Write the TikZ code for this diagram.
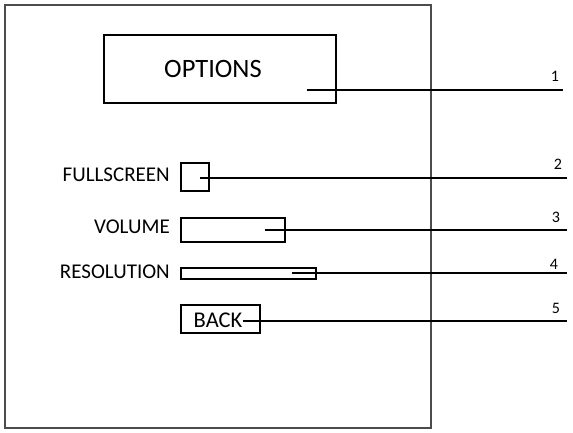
\documentclass[tikz,border=0pt]{standalone}
\usepackage{fontspec}
\setmainfont{Carlito}
\begin{document}
\begin{tikzpicture}[x=1pt,y=-1pt,
  box/.style={draw=black,line width=1.8pt,inner sep=0pt,anchor=north west},
  lbl/.style={anchor=east,inner sep=0pt,font=\fontsize{21}{24}\selectfont},
  num/.style={inner sep=0pt,font=\fontsize{16}{18}\selectfont},
  conn/.style={draw=black,line width=1.8pt}]
\useasboundingbox (0,0) rectangle (573,433);
% outer frame
\node[draw=gray!60!black,line width=2.2pt,inner sep=0pt,minimum width=426pt,minimum height=423pt,anchor=north west] (frame) at (4,4) {};
% OPTIONS title
\node[box,minimum width=232pt,minimum height=68pt] (opt) at (103,34) {};
\node[inner sep=0pt,font=\fontsize{26.5}{30}\selectfont] (optt) at (213,69) {OPTIONS};
% fullscreen
\node[lbl] (fst) at (170,175) {FULLSCREEN};
\node[box,minimum width=28pt,minimum height=28pt] (fs) at (180,162) {};
% volume
\node[lbl] (vot) at (170,227) {VOLUME};
\node[box,minimum width=104pt,minimum height=24pt] (vo) at (180,217) {};
% resolution
\node[lbl] (ret) at (170,272) {RESOLUTION};
\node[box,minimum width=135pt,minimum height=11pt] (re) at (180,267) {};
% back
\node[box,minimum width=79pt,minimum height=28pt] (bk) at (180,304) {};
\node[inner sep=0pt,font=\fontsize{22.5}{26}\selectfont] (bkt) at (218,320) {BACK};
% callout ends and numbers
\coordinate (s1) at (307,90);  \coordinate (e1) at (563,90);
\coordinate (s2) at (200,178); \coordinate (e2) at (567,178);
\coordinate (s3) at (265,230); \coordinate (e3) at (567,230);
\coordinate (s4) at (292,273); \coordinate (e4) at (567,273);
\coordinate (s5) at (243,321); \coordinate (e5) at (567,321);
\draw[conn] (s1) -- (e1);
\draw[conn] (s2) -- (e2);
\draw[conn] (s3) -- (e3);
\draw[conn] (s4) -- (e4);
\draw[conn] (s5) -- (e5);
\node[num] (n1) at (555,76) {1};
\node[num] (n2) at (558,164) {2};
\node[num] (n3) at (556,217) {3};
\node[num] (n4) at (554,264) {4};
\node[num] (n5) at (556,308) {5};
\end{tikzpicture}
\end{document}
